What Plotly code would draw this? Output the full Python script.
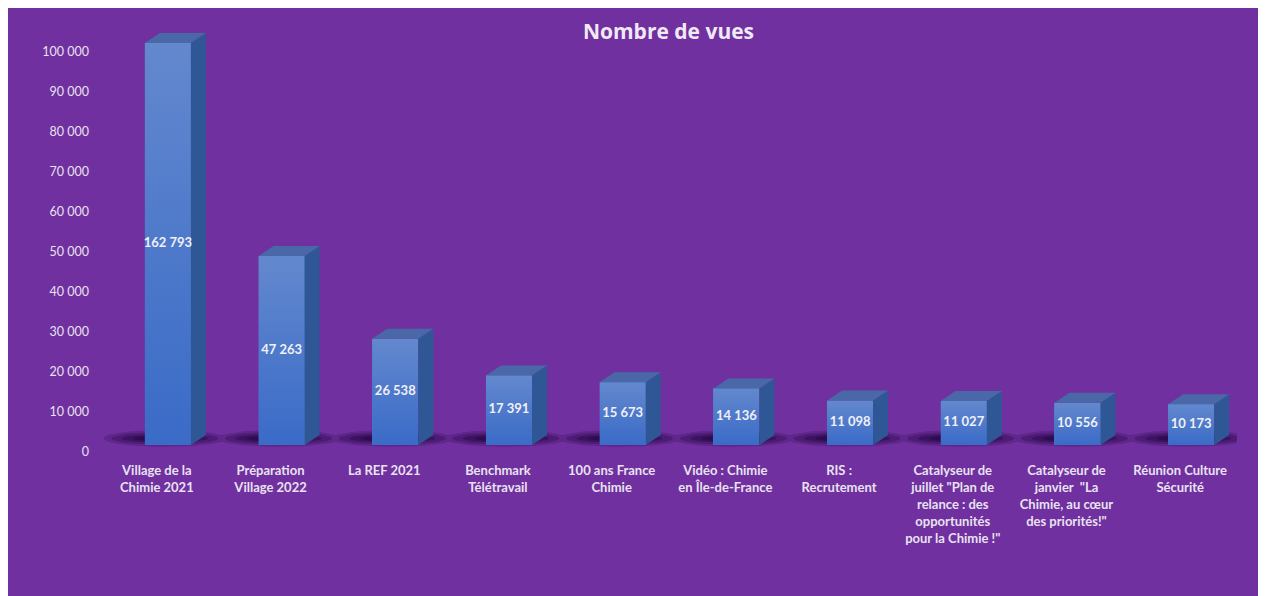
import numpy as np
import plotly.graph_objects as go

W, H = 1258, 588   # page body adds an 8px margin

categories = [
    "Village de la<br>Chimie 2021",
    "Préparation<br>Village 2022",
    "La REF 2021",
    "Benchmark<br>Télétravail",
    "100 ans France<br>Chimie",
    "Vidéo : Chimie<br>en Île-de-France",
    "RIS :<br>Recrutement",
    "Catalyseur de<br>juillet \"Plan de<br>relance : des<br>opportunités<br>pour la Chimie !\"",
    "Catalyseur de<br>janvier  \"La<br>Chimie, au cœur<br>des priorités!\"",
    "Réunion Culture<br>Sécurité",
]
views = [162793, 47263, 26538, 17391, 15673, 14136, 11098, 11027, 10556, 10173]
y_ticks = [0, 10000, 20000, 30000, 40000, 50000, 60000, 70000, 80000, 90000, 100000]

# style / geometry parameters (3D look)
Y_RANGE = [0, 106750]
BASE = 1750          # floor offset of the 3D bars
CAP = 102250         # visible top of the clipped chart area
FRONT_W = 0.405
FRONT_OFF = -0.1055
DX = 0.132
DY = 2500

PURPLE = "#7030A0"
TXT = "#E8E2F0"

xpos = list(range(len(categories)))
shown = [min(v, CAP - BASE) for v in views]
labels = [f"{v:,}".replace(",", " ") for v in views]

fig = go.Figure()

# soft shadows under the bars
t = np.linspace(0, 2 * np.pi, 60)
for sx, sy, op in [(0.54, 2100, 0.22), (0.47, 1600, 0.30), (0.38, 1100, 0.42), (0.28, 700, 0.5)]:
    xs, ys = [], []
    for i in xpos:
        xs += list(i + 0.07 + sx * np.cos(t)) + [None]
        ys += list(3400 + sy * np.sin(t)) + [None]
    fig.add_trace(go.Scatter(x=xs, y=ys, fill="toself", fillcolor=f"rgba(35,6,65,{op})",
                             mode="lines", line=dict(width=0), hoverinfo="skip",
                             showlegend=False, yaxis="y"))

# front faces (bars)
fig.add_trace(go.Bar(x=xpos, y=shown, base=BASE, width=FRONT_W, offset=FRONT_OFF,
                     marker=dict(color="#4A77CB", line=dict(width=0)),
                     hoverinfo="skip", showlegend=False, yaxis="y2"))

# gradient shading on each front face
for i, h in zip(xpos, shown):
    L = i + FRONT_OFF
    R = L + FRONT_W
    top = BASE + h
    fig.add_trace(go.Scatter(x=[L, R, R, L, L], y=[BASE, BASE, top, top, BASE],
                             fill="toself", mode="lines", line=dict(width=0),
                             fillgradient=dict(type="vertical",
                                               colorscale=[[0, "#3A6BC7"], [1, "#6388CE"]]),
                             hoverinfo="skip", showlegend=False, yaxis="y2"))

# side and top faces
sx_, sy_ = [], []
tx_, ty_ = [], []
for i, h in zip(xpos, shown):
    L = i + FRONT_OFF
    R = L + FRONT_W
    top = BASE + h
    sx_ += [R, R + DX, R + DX, R, R, None]
    sy_ += [BASE, BASE + DY, top + DY, top, BASE, None]
    tx_ += [L, R, R + DX, L + DX, L, None]
    ty_ += [top, top, top + DY, top + DY, top, None]
fig.add_trace(go.Scatter(x=sx_, y=sy_, fill="toself", fillcolor="#2F5795", mode="lines",
                         line=dict(width=0), hoverinfo="skip", showlegend=False, yaxis="y2"))
fig.add_trace(go.Scatter(x=tx_, y=ty_, fill="toself", fillcolor="#4A68A7", mode="lines",
                         line=dict(width=0), hoverinfo="skip", showlegend=False, yaxis="y2"))

# value labels
fig.add_trace(go.Scatter(x=[i + FRONT_OFF + FRONT_W / 2 for i in xpos],
                         y=[BASE + h / 2 for h in shown], text=labels, mode="text",
                         textfont=dict(family="Lato", size=13, color="#F0F0F6", weight="bold"),
                         hoverinfo="skip", showlegend=False, yaxis="y2", cliponaxis=False))

fig.update_layout(
    width=W, height=H,
    margin=dict(l=92, r=29, t=17, b=144),
    paper_bgcolor="white",
    plot_bgcolor="rgba(0,0,0,0)",
    separators=", ",
    title=dict(text="Nombre de vues", x=0.5, xref="paper", xanchor="center",
               y=1 - 24 / H, yref="container", yanchor="middle",
               font=dict(family="Open Sans", size=21, color="#F0EAF5", weight="bold")),
    xaxis=dict(range=[-0.5, len(categories) - 0.5], tickvals=xpos, ticktext=categories,
               showgrid=False, zeroline=False, showline=False, ticks="",
               ticklabelstandoff=9,
               tickfont=dict(family="Lato", size=13, color=TXT, weight="bold")),
    yaxis=dict(range=Y_RANGE, tickvals=y_ticks, tickformat=",d", showgrid=False,
               zeroline=False, showline=False, ticks="", ticklabelstandoff=10,
               tickfont=dict(family="Lato", size=12.5, color=TXT)),
    yaxis2=dict(range=Y_RANGE, overlaying="y", visible=False),
    shapes=[dict(type="rect", xref="paper", yref="paper", layer="below",
                 x0=-0.2, x1=(1260 - 100) / 1137,
                 y0=-0.5, y1=0.2 + (452 - 8) / 427,
                 fillcolor=PURPLE, line=dict(width=0))],
    bargap=0,
)

fig.write_html("out.html")
